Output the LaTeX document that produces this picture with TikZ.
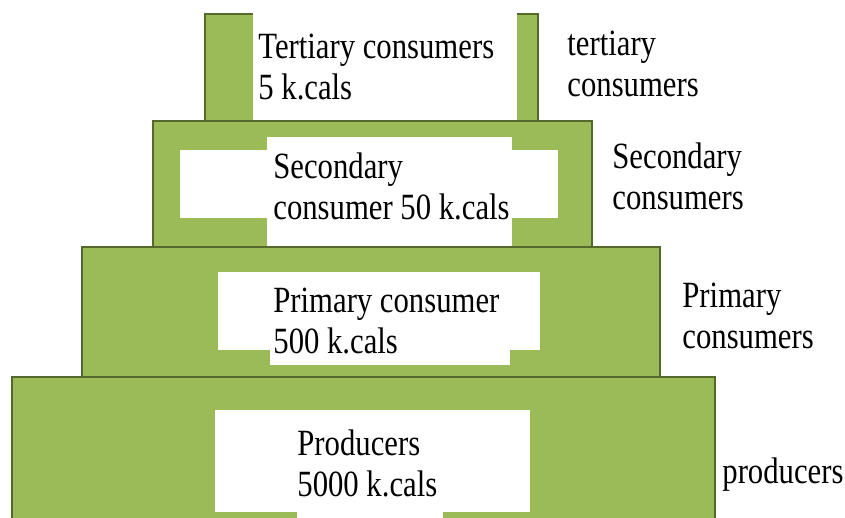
\documentclass[tikz,border=0pt]{standalone}
\usepackage{fontspec}
\usepackage{tikz}
\newfontfamily\pyrfont{Liberation Serif}[FakeStretch=0.83]
\definecolor{pyrgreen}{RGB}{155,187,89}
\definecolor{pyrdark}{RGB}{85,105,45}
\tikzset{every picture/.style={x=0.5pt, y=-0.5pt}}
\tikzset{
  block/.style={fill=pyrgreen, draw=pyrdark, line width=1pt},
  gap/.style={fill=white},
  lbl/.style={font=\pyrfont\fontsize{18.5}{20.5}\selectfont, align=left, anchor=west, inner sep=0pt}
}

\begin{document}
\begin{tikzpicture}
        \useasboundingbox (0,0) rectangle (845,518);
        % Draw the levels, widest at the bottom
        \fill[pyrgreen] (12,377) rectangle (715,518);
        \draw[pyrdark, line width=1pt] (12,518) |- (715,377) -- (715,518);
        \draw[block] (82,247) rectangle (660,377);
        \draw[block] (153,121) rectangle (592,247);
        \draw[block] (205,14) rectangle (538,121);

        % White text areas
        \fill[gap] (253,10) rectangle (517,120);
        \fill[gap] (180,150) rectangle (558,218);
        \fill[gap] (267,137) rectangle (512,246);
        \fill[gap] (218,272) rectangle (540,350);
        \fill[gap] (270,349) rectangle (510,365);
        \fill[gap] (215,410) rectangle (530,512);
        \fill[gap] (297,511) rectangle (443,518);

        % Labels inside
        \node[lbl] (tertin) at (258,67) {Tertiary consumers\\5 k.cals};
        \node[lbl] (secin) at (273,186) {Secondary\\consumer 50 k.cals};
        \node[lbl] (primin) at (273,321) {Primary consumer\\500 k.cals};
        \node[lbl] (prodin) at (297,463) {Producers\\5000 k.cals};

        % Labels on the right
        \node[lbl] (tertout) at (567,64) {tertiary\\consumers};
        \node[lbl] (secout) at (612,176) {Secondary\\consumers};
        \node[lbl] (primout) at (682,316) {Primary\\consumers};
        \node[lbl] (prodout) at (722,475) {producers};
    \end{tikzpicture}
\end{document}
